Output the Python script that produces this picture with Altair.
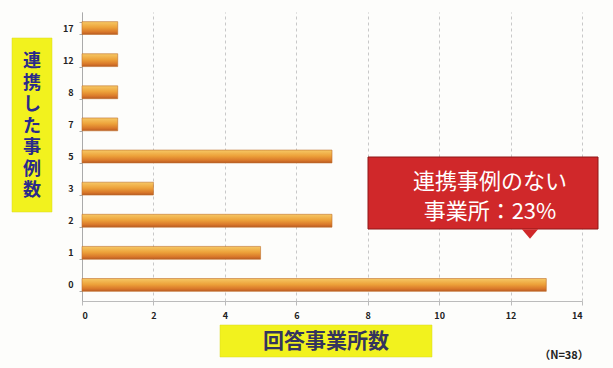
import altair as alt
import pandas as pd

categories = ["17", "12", "8", "7", "5", "3", "2", "1", "0"]
counts = [1, 1, 1, 1, 7, 2, 7, 5, 13]
x_ticks = [0, 2, 4, 6, 8, 10, 12, 14]

y_title = "連携した事例数"
x_title = "回答事業所数"
callout_lines = "連携事例のない\n事業所：23%"
note = "（N=38）"

df = pd.DataFrame({"cat": categories, "n": counts})

FONT = "Noto Sans CJK JP"
W, H = 500, 289

grad = alt.Gradient(
    gradient="linear", x1=0, x2=0, y1=0, y2=1,
    stops=[
        alt.GradientStop(color="#F6C865", offset=0),
        alt.GradientStop(color="#EDA23A", offset=0.45),
        alt.GradientStop(color="#D9782A", offset=0.8),
        alt.GradientStop(color="#B85A22", offset=1),
    ],
)

bars = alt.Chart(df).mark_bar(color=grad, stroke="#C0702C", strokeWidth=0.6).encode(
    x=alt.X("n:Q", scale=alt.Scale(domain=[0, 14], nice=False),
            axis=alt.Axis(values=x_ticks, title=None, grid=True, gridDash=[3, 3],
                          gridColor="#C8C8C8", domain=True, domainColor="#BBBBBB",
                          tickColor="#BBBBBB", tickSize=4, labelFont=FONT,
                          labelFontSize=9, labelFontWeight="bold", labelColor="#222222",
                          labelPadding=6)),
    y=alt.Y("cat:N", sort=categories,
            scale=alt.Scale(paddingInner=0.6, paddingOuter=0.3),
            axis=alt.Axis(title=None, domainColor="#AAAAAA", tickColor="#AAAAAA",
                          tickSize=3, tickBand="extent", labelFont=FONT, labelFontSize=9,
                          labelFontWeight="bold", labelColor="#222222", labelPadding=6)),
)

one = alt.Chart(df).transform_filter("datum.cat == '17'")

# Y title box
ybox = one.mark_rect(
    color="#F2F21E", stroke="#D8D820", strokeWidth=0.5
).encode(x=alt.value(-70), x2=alt.value(-30), y=alt.value(26), y2=alt.value(200))
ytext = one.mark_text(
    text="\n".join(list(y_title)), lineBreak="\n", font=FONT, fontSize=18,
    fontWeight="bold", color="#2A2A8A", lineHeight=21.5, baseline="middle", align="center"
).encode(x=alt.value(-50), y=alt.value(50))

# X title box
xbox = one.mark_rect(
    color="#F2F21E", stroke="#D8D820", strokeWidth=0.5
).encode(x=alt.value(138), x2=alt.value(350), y=alt.value(313), y2=alt.value(345))
xtext = one.mark_text(
    text=x_title, font=FONT, fontSize=21, fontWeight="bold", color="#34345E",
    baseline="middle", align="center"
).encode(x=alt.value(244), y=alt.value(330))

# N note
ntext = one.mark_text(
    text=note, font=FONT, fontSize=11, fontWeight="bold", color="#222222",
    baseline="middle", align="center"
).encode(x=alt.value(482), y=alt.value(344))

# Callout
cbox = one.mark_rect(
    color="#D0282A", stroke="#8E1616", strokeWidth=1
).encode(x=alt.value(286), x2=alt.value(516), y=alt.value(145), y2=alt.value(217))
cptr = one.mark_point(
    shape="M-1,-0.6L1,-0.6L0,0.6Z", filled=True, color="#D0282A", opacity=1, size=260
).encode(x=alt.value(448), y=alt.value(222))
ctext = one.mark_text(
    text=callout_lines, lineBreak="\n", font=FONT, fontSize=22, color="#FFFFFF",
    lineHeight=30, baseline="middle", align="center"
).encode(x=alt.value(408), y=alt.value(170))

chart = alt.layer(bars, ybox, ytext, xbox, xtext, ntext, cbox, cptr, ctext).properties(
    width=W, height=H,
    autosize=alt.AutoSizeParams(type="none"),
    padding={"left": 82, "top": 12, "right": 31, "bottom": 67},
    background="#FDFDFB",
).configure_view(stroke=None)

chart.save("out.html", embed_options={"renderer": "svg", "actions": False})
